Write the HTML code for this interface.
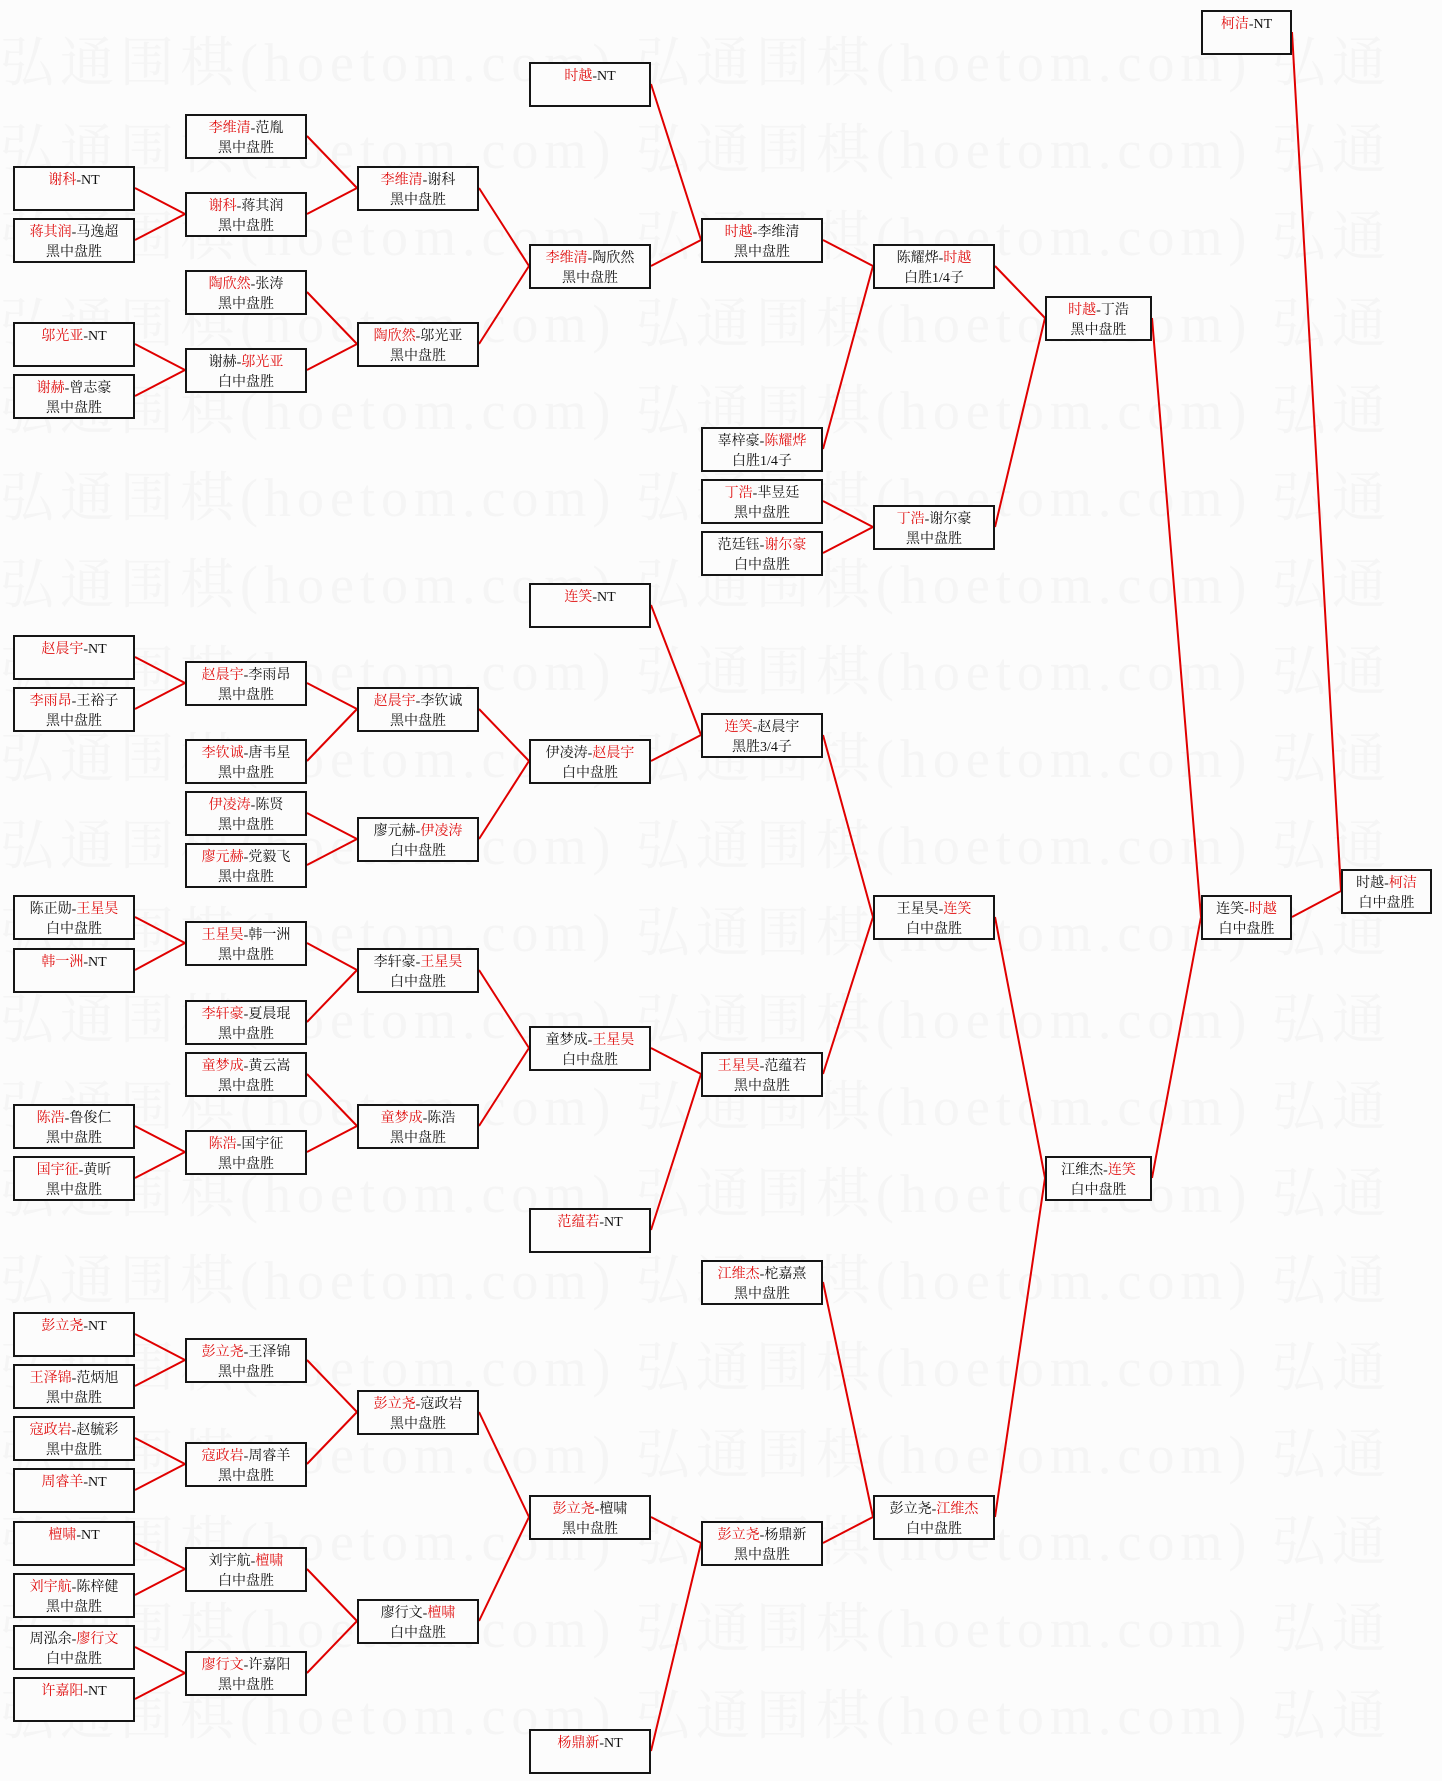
<!DOCTYPE html>
<html><head><meta charset="utf-8"><style>
html,body{margin:0;padding:0;}
body{width:1442px;height:1781px;position:relative;background:#fcfcfc;overflow:hidden;font-family:"Liberation Serif","Noto Serif CJK SC","Noto Sans CJK SC",serif;}
.wm{position:absolute;left:0;font-size:54px;color:#f5f5f5;white-space:nowrap;letter-spacing:6px;}
.b{position:absolute;width:122px;height:45px;box-sizing:border-box;border:2px solid #151515;background:#fcfcfc;text-align:center;font-size:14px;line-height:20px;padding-top:3px;color:#111;white-space:nowrap;}
.n{width:91px;}
.m{width:107px;}
.r{color:#e01010;}
svg{position:absolute;left:0;top:0;}
</style></head><body>
<div class="wm" style="top:20px">弘通围棋(hoetom.com) 弘通围棋(hoetom.com) 弘通</div>
<div class="wm" style="top:107px">弘通围棋(hoetom.com) 弘通围棋(hoetom.com) 弘通</div>
<div class="wm" style="top:194px">弘通围棋(hoetom.com) 弘通围棋(hoetom.com) 弘通</div>
<div class="wm" style="top:281px">弘通围棋(hoetom.com) 弘通围棋(hoetom.com) 弘通</div>
<div class="wm" style="top:368px">弘通围棋(hoetom.com) 弘通围棋(hoetom.com) 弘通</div>
<div class="wm" style="top:455px">弘通围棋(hoetom.com) 弘通围棋(hoetom.com) 弘通</div>
<div class="wm" style="top:542px">弘通围棋(hoetom.com) 弘通围棋(hoetom.com) 弘通</div>
<div class="wm" style="top:629px">弘通围棋(hoetom.com) 弘通围棋(hoetom.com) 弘通</div>
<div class="wm" style="top:716px">弘通围棋(hoetom.com) 弘通围棋(hoetom.com) 弘通</div>
<div class="wm" style="top:803px">弘通围棋(hoetom.com) 弘通围棋(hoetom.com) 弘通</div>
<div class="wm" style="top:890px">弘通围棋(hoetom.com) 弘通围棋(hoetom.com) 弘通</div>
<div class="wm" style="top:977px">弘通围棋(hoetom.com) 弘通围棋(hoetom.com) 弘通</div>
<div class="wm" style="top:1064px">弘通围棋(hoetom.com) 弘通围棋(hoetom.com) 弘通</div>
<div class="wm" style="top:1151px">弘通围棋(hoetom.com) 弘通围棋(hoetom.com) 弘通</div>
<div class="wm" style="top:1238px">弘通围棋(hoetom.com) 弘通围棋(hoetom.com) 弘通</div>
<div class="wm" style="top:1325px">弘通围棋(hoetom.com) 弘通围棋(hoetom.com) 弘通</div>
<div class="wm" style="top:1412px">弘通围棋(hoetom.com) 弘通围棋(hoetom.com) 弘通</div>
<div class="wm" style="top:1499px">弘通围棋(hoetom.com) 弘通围棋(hoetom.com) 弘通</div>
<div class="wm" style="top:1586px">弘通围棋(hoetom.com) 弘通围棋(hoetom.com) 弘通</div>
<div class="wm" style="top:1673px">弘通围棋(hoetom.com) 弘通围棋(hoetom.com) 弘通</div>

<svg width="1442" height="1781" stroke="#e00000" stroke-width="2" fill="none">
<path d="M135 188L185 214M135 240L185 214M135 344L185 370M135 396L185 370M135 657L185 683M135 709L185 683M135 917L185 943M135 970L185 943M135 1126L185 1152M135 1178L185 1152M135 1334L185 1360M135 1386L185 1360M135 1438L185 1464M135 1490L185 1464M135 1543L185 1569M135 1595L185 1569M135 1647L185 1673M135 1699L185 1673"/>
<path d="M307 136L357 188M307 214L357 188M307 292L357 344M307 370L357 344M307 683L357 709M307 761L357 709M307 813L357 839M307 865L357 839M307 943L357 970M307 1022L357 970M307 1074L357 1126M307 1152L357 1126M307 1360L357 1412M307 1464L357 1412M307 1569L357 1621M307 1673L357 1621"/>
<path d="M479 188L529 266M479 344L529 266M479 709L529 761M479 839L529 761M479 970L529 1048M479 1126L529 1048M479 1412L529 1517M479 1621L529 1517"/>
<path d="M651 84L701 240M651 266L701 240M651 605L701 735M651 761L701 735M651 1048L701 1074M651 1230L701 1074M651 1517L701 1543M651 1751L701 1543"/>
<path d="M823 240L873 266M823 449L873 266M823 501L873 527M823 553L873 527M823 735L873 917M823 1074L873 917M823 1282L873 1517M823 1543L873 1517"/>
<path d="M995 266L1045 318M995 527L1045 318M995 917L1045 1178M995 1517L1045 1178"/>
<path d="M1152 318L1201 917M1152 1178L1201 917"/>
<path d="M1292 32L1341 891M1292 917L1341 891"/>
</svg>

<!-- col1 -->
<div class="b" style="left:13px;top:166px"><span class="r">谢科</span>-NT</div>
<div class="b" style="left:13px;top:218px"><span class="r">蒋其润</span>-马逸超<br>黑中盘胜</div>
<div class="b" style="left:13px;top:322px"><span class="r">邬光亚</span>-NT</div>
<div class="b" style="left:13px;top:374px"><span class="r">谢赫</span>-曾志豪<br>黑中盘胜</div>
<div class="b" style="left:13px;top:635px"><span class="r">赵晨宇</span>-NT</div>
<div class="b" style="left:13px;top:687px"><span class="r">李雨昂</span>-王裕子<br>黑中盘胜</div>
<div class="b" style="left:13px;top:895px">陈正勋-<span class="r">王星昊</span><br>白中盘胜</div>
<div class="b" style="left:13px;top:948px"><span class="r">韩一洲</span>-NT</div>
<div class="b" style="left:13px;top:1104px"><span class="r">陈浩</span>-鲁俊仁<br>黑中盘胜</div>
<div class="b" style="left:13px;top:1156px"><span class="r">国宇征</span>-黄昕<br>黑中盘胜</div>
<div class="b" style="left:13px;top:1312px"><span class="r">彭立尧</span>-NT</div>
<div class="b" style="left:13px;top:1364px"><span class="r">王泽锦</span>-范炳旭<br>黑中盘胜</div>
<div class="b" style="left:13px;top:1416px"><span class="r">寇政岩</span>-赵毓彩<br>黑中盘胜</div>
<div class="b" style="left:13px;top:1468px"><span class="r">周睿羊</span>-NT</div>
<div class="b" style="left:13px;top:1521px"><span class="r">檀啸</span>-NT</div>
<div class="b" style="left:13px;top:1573px"><span class="r">刘宇航</span>-陈梓健<br>黑中盘胜</div>
<div class="b" style="left:13px;top:1625px">周泓余-<span class="r">廖行文</span><br>白中盘胜</div>
<div class="b" style="left:13px;top:1677px"><span class="r">许嘉阳</span>-NT</div>
<!-- col2 -->
<div class="b" style="left:185px;top:114px"><span class="r">李维清</span>-范胤<br>黑中盘胜</div>
<div class="b" style="left:185px;top:192px"><span class="r">谢科</span>-蒋其润<br>黑中盘胜</div>
<div class="b" style="left:185px;top:270px"><span class="r">陶欣然</span>-张涛<br>黑中盘胜</div>
<div class="b" style="left:185px;top:348px">谢赫-<span class="r">邬光亚</span><br>白中盘胜</div>
<div class="b" style="left:185px;top:661px"><span class="r">赵晨宇</span>-李雨昂<br>黑中盘胜</div>
<div class="b" style="left:185px;top:739px"><span class="r">李钦诚</span>-唐韦星<br>黑中盘胜</div>
<div class="b" style="left:185px;top:791px"><span class="r">伊凌涛</span>-陈贤<br>黑中盘胜</div>
<div class="b" style="left:185px;top:843px"><span class="r">廖元赫</span>-党毅飞<br>黑中盘胜</div>
<div class="b" style="left:185px;top:921px"><span class="r">王星昊</span>-韩一洲<br>黑中盘胜</div>
<div class="b" style="left:185px;top:1000px"><span class="r">李轩豪</span>-夏晨琨<br>黑中盘胜</div>
<div class="b" style="left:185px;top:1052px"><span class="r">童梦成</span>-黄云嵩<br>黑中盘胜</div>
<div class="b" style="left:185px;top:1130px"><span class="r">陈浩</span>-国宇征<br>黑中盘胜</div>
<div class="b" style="left:185px;top:1338px"><span class="r">彭立尧</span>-王泽锦<br>黑中盘胜</div>
<div class="b" style="left:185px;top:1442px"><span class="r">寇政岩</span>-周睿羊<br>黑中盘胜</div>
<div class="b" style="left:185px;top:1547px">刘宇航-<span class="r">檀啸</span><br>白中盘胜</div>
<div class="b" style="left:185px;top:1651px"><span class="r">廖行文</span>-许嘉阳<br>黑中盘胜</div>
<!-- col3 -->
<div class="b" style="left:357px;top:166px"><span class="r">李维清</span>-谢科<br>黑中盘胜</div>
<div class="b" style="left:357px;top:322px"><span class="r">陶欣然</span>-邬光亚<br>黑中盘胜</div>
<div class="b" style="left:357px;top:687px"><span class="r">赵晨宇</span>-李钦诚<br>黑中盘胜</div>
<div class="b" style="left:357px;top:817px">廖元赫-<span class="r">伊凌涛</span><br>白中盘胜</div>
<div class="b" style="left:357px;top:948px">李轩豪-<span class="r">王星昊</span><br>白中盘胜</div>
<div class="b" style="left:357px;top:1104px"><span class="r">童梦成</span>-陈浩<br>黑中盘胜</div>
<div class="b" style="left:357px;top:1390px"><span class="r">彭立尧</span>-寇政岩<br>黑中盘胜</div>
<div class="b" style="left:357px;top:1599px">廖行文-<span class="r">檀啸</span><br>白中盘胜</div>
<!-- col4 -->
<div class="b" style="left:529px;top:62px"><span class="r">时越</span>-NT</div>
<div class="b" style="left:529px;top:244px"><span class="r">李维清</span>-陶欣然<br>黑中盘胜</div>
<div class="b" style="left:529px;top:583px"><span class="r">连笑</span>-NT</div>
<div class="b" style="left:529px;top:739px">伊凌涛-<span class="r">赵晨宇</span><br>白中盘胜</div>
<div class="b" style="left:529px;top:1026px">童梦成-<span class="r">王星昊</span><br>白中盘胜</div>
<div class="b" style="left:529px;top:1208px"><span class="r">范蕴若</span>-NT</div>
<div class="b" style="left:529px;top:1495px"><span class="r">彭立尧</span>-檀啸<br>黑中盘胜</div>
<div class="b" style="left:529px;top:1729px"><span class="r">杨鼎新</span>-NT</div>
<!-- col5 -->
<div class="b" style="left:701px;top:218px"><span class="r">时越</span>-李维清<br>黑中盘胜</div>
<div class="b" style="left:701px;top:427px">辜梓豪-<span class="r">陈耀烨</span><br>白胜1/4子</div>
<div class="b" style="left:701px;top:479px"><span class="r">丁浩</span>-芈昱廷<br>黑中盘胜</div>
<div class="b" style="left:701px;top:531px">范廷钰-<span class="r">谢尔豪</span><br>白中盘胜</div>
<div class="b" style="left:701px;top:713px"><span class="r">连笑</span>-赵晨宇<br>黑胜3/4子</div>
<div class="b" style="left:701px;top:1052px"><span class="r">王星昊</span>-范蕴若<br>黑中盘胜</div>
<div class="b" style="left:701px;top:1260px"><span class="r">江维杰</span>-柁嘉熹<br>黑中盘胜</div>
<div class="b" style="left:701px;top:1521px"><span class="r">彭立尧</span>-杨鼎新<br>黑中盘胜</div>
<!-- col6 -->
<div class="b" style="left:873px;top:244px">陈耀烨-<span class="r">时越</span><br>白胜1/4子</div>
<div class="b" style="left:873px;top:505px"><span class="r">丁浩</span>-谢尔豪<br>黑中盘胜</div>
<div class="b" style="left:873px;top:895px">王星昊-<span class="r">连笑</span><br>白中盘胜</div>
<div class="b" style="left:873px;top:1495px">彭立尧-<span class="r">江维杰</span><br>白中盘胜</div>
<!-- col7 -->
<div class="b m" style="left:1045px;top:296px"><span class="r">时越</span>-丁浩<br>黑中盘胜</div>
<div class="b m" style="left:1045px;top:1156px">江维杰-<span class="r">连笑</span><br>白中盘胜</div>
<!-- col8 -->
<div class="b n" style="left:1201px;top:10px"><span class="r">柯洁</span>-NT</div>
<div class="b n" style="left:1201px;top:895px">连笑-<span class="r">时越</span><br>白中盘胜</div>
<!-- col9 -->
<div class="b n" style="left:1341px;top:869px">时越-<span class="r">柯洁</span><br>白中盘胜</div>
</body></html>
